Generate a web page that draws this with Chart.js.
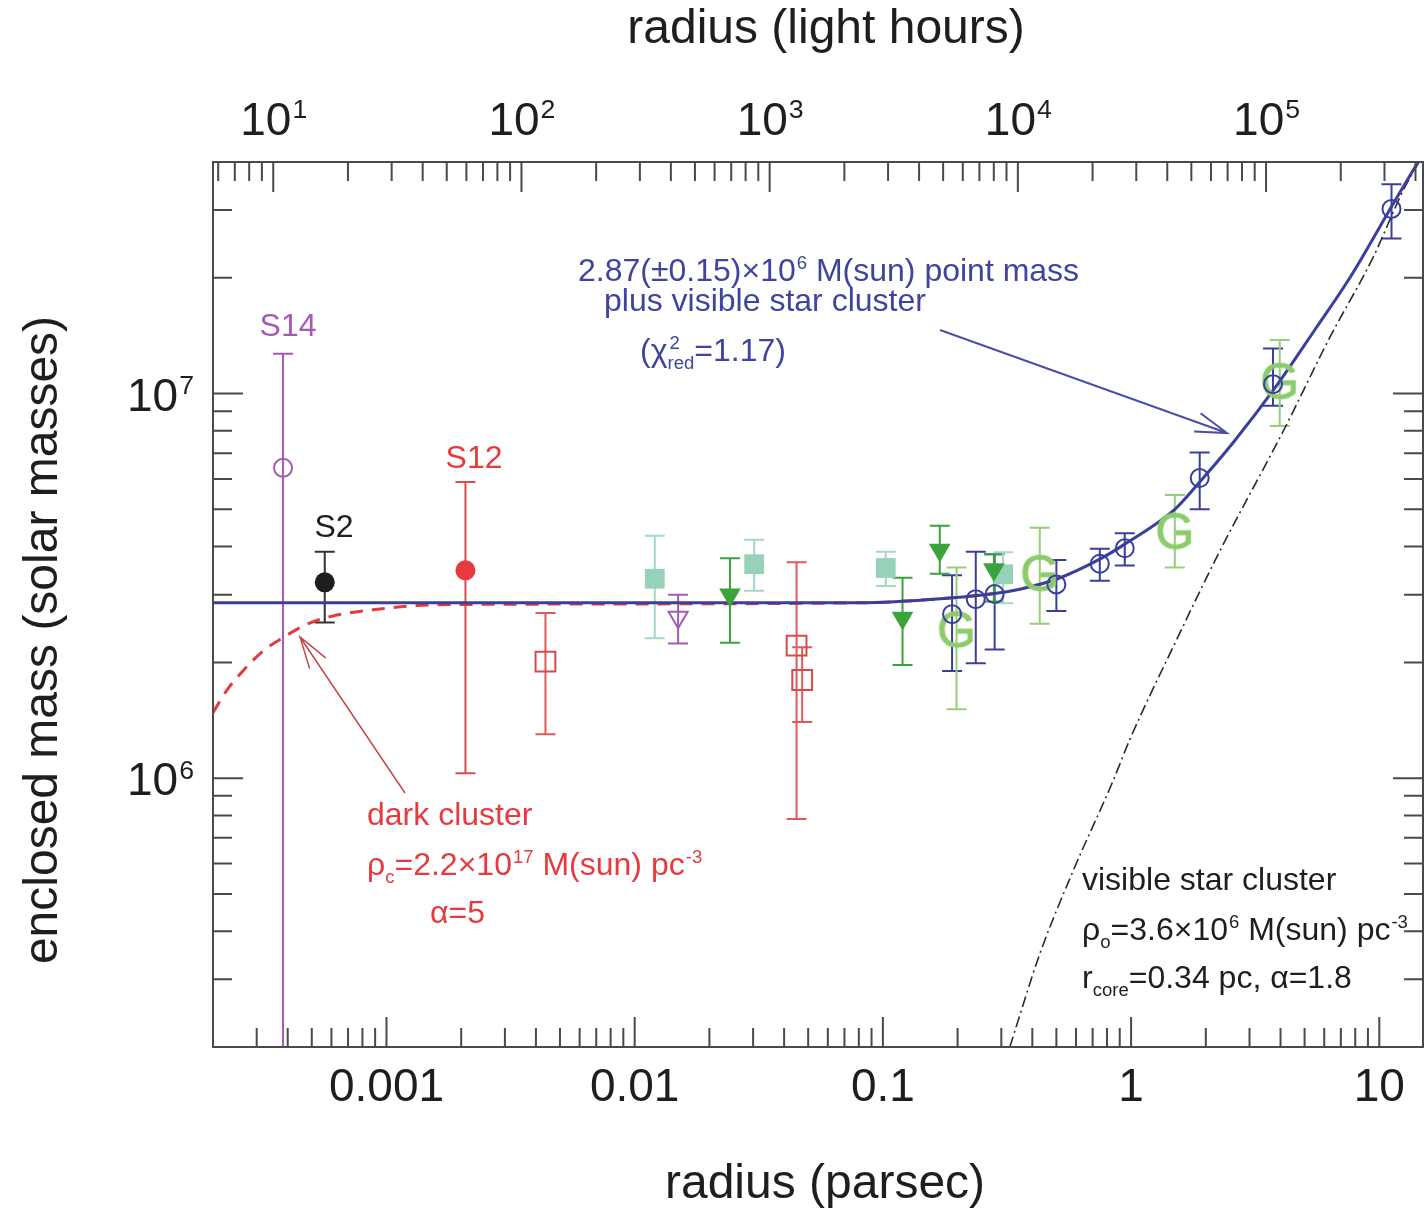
<!DOCTYPE html>
<html>
<head>
<meta charset="utf-8">
<title>Enclosed mass vs radius</title>
<script src="https://cdn.jsdelivr.net/npm/chart.js@4.4.1/dist/chart.umd.min.js"></script>
<style>
  html, body { margin: 0; padding: 0; background: #fff; }
  canvas { display: block; }
</style>
</head>
<body>
<canvas id="mass-chart" width="1425" height="1210"></canvas>
<script>
// radius in parsec, enclosed mass in solar masses
const LIGHT_HOURS_PER_PC = 28591;

// axis ticks
const xTickValues = [0.001, 0.01, 0.1, 1, 10];
const xTickLabels = ['0.001', '0.01', '0.1', '1', '10'];
const topTickValues = [1e1, 1e2, 1e3, 1e4, 1e5];   // light hours
const topTickExps = ['1', '2', '3', '4', '5'];
const yTickValues = [1e6, 1e7];
const yTickExps = ['6', '7'];

// S14
const s14R = [3.83e-4];
const s14M = [6.41e6];
const s14Lo = [1e5];
const s14Hi = [1.27e7];

// S2
const s2R = [5.64e-4];
const s2M = [3.23e6];
const s2Lo = [2.54e6];
const s2Hi = [3.88e6];

// S12
const s12R = [2.08e-3];
const s12M = [3.47e6];
const s12Lo = [1.03e6];
const s12Hi = [5.89e6];

// open red squares
const redSqR = [4.37e-3, 4.49e-2, 4.73e-2];
const redSqM = [2.01e6, 2.21e6, 1.80e6];
const redSqLo = [1.30e6, 7.83e5, 1.40e6];
const redSqHi = [2.69e6, 3.64e6, 2.19e6];

// filled teal squares
const tealR = [1.205e-2, 3.03e-2, 0.1027, 0.305];
const tealM = [3.30e6, 3.60e6, 3.52e6, 3.39e6];
const tealLo = [2.31e6, 3.07e6, 3.16e6, 2.85e6];
const tealHi = [4.27e6, 4.17e6, 3.88e6, 3.87e6];

// open purple triangle
const purpTriR = [1.496e-2];
const purpTriM = [2.62e6];
const purpTriLo = [2.24e6];
const purpTriHi = [3.0e6];

// filled green triangles
const greenTriR = [2.42e-2, 0.12, 0.1695, 0.28];
const greenTriM = [3.0e6, 2.61e6, 3.92e6, 3.49e6];
const greenTriLo = [2.25e6, 1.97e6, 3.40e6, 2.88e6];
const greenTriHi = [3.73e6, 3.32e6, 4.53e6, 3.82e6];

// "G" points
const gR = [0.198, 0.4286, 1.50, 3.97];
const gM = [2.44e6, 3.42e6, 4.40e6, 1.08e7];
const gLo = [1.51e6, 2.52e6, 3.53e6, 8.24e6];
const gHi = [3.53e6, 4.48e6, 5.45e6, 1.377e7];

// open blue circles
const blueR = [0.19, 0.2367, 0.282, 0.50, 0.748, 0.943, 1.89, 3.73, 11.2];
const blueM = [2.67e6, 2.92e6, 3.01e6, 3.19e6, 3.61e6, 3.96e6, 6.03e6, 1.058e7, 3.02e7];
const blueLo = [1.90e6, 1.99e6, 2.16e6, 2.72e6, 3.26e6, 3.57e6, 5.0e6, 9.29e6, 2.53e7];
const blueHi = [3.37e6, 3.88e6, 3.82e6, 3.69e6, 3.95e6, 4.33e6, 7.03e6, 1.31e7, 3.50e7];

// model curves
const pointMassR = [2e-4, 0.0807, 0.186, 0.282, 0.356, 0.50, 0.748, 0.943, 1.50, 1.89, 2.58, 3.85, 5.58, 7.61, 11.36, 14.56];
const pointMassM = [2.857e6, 2.857e6, 2.94e6, 3.02e6, 3.10e6, 3.29e6, 3.71e6, 4.06e6, 5.0e6, 5.89e6, 7.46e6, 1.047e7, 1.485e7, 2.0e7, 3.11e7, 4.07e7];

const darkR = [2.0e-4, 2.27e-4, 2.64e-4, 3.18e-4, 3.83e-4, 4.76e-4, 6.09e-4, 8.83e-4, 1.32e-3, 2.1e-3, 0.0807, 0.186, 0.282];
const darkM = [1.48e6, 1.69e6, 1.90e6, 2.14e6, 2.32e6, 2.51e6, 2.64e6, 2.74e6, 2.81e6, 2.83e6, 2.857e6, 2.94e6, 3.02e6];

const starsR = [0.3246, 0.4286, 0.584, 0.846, 0.988, 1.52, 2.28, 4.10, 6.32, 9.44, 12.47, 14.56];
const starsM = [2.0e5, 3.49e5, 5.74e5, 9.84e5, 1.26e6, 2.28e6, 3.90e6, 7.98e6, 1.40e7, 2.26e7, 3.37e7, 4.03e7];

const FONT = '"Liberation Sans", Arial, Helvetica, sans-serif';

function pts(r, m) {
    return r.map((v, i) => ({x: v, y: m[i]}));
}

function glyph(ch, color, size) {
    const c = document.createElement('canvas');
    c.width = size;
    c.height = size;
    const g = c.getContext('2d');
    g.font = size + 'px ' + FONT;
    g.fillStyle = color;
    g.strokeStyle = color;
    g.lineWidth = 1;
    g.textAlign = 'center';
    g.textBaseline = 'alphabetic';
    g.fillText(ch, size / 2, size / 2 + size * 0.36);
    g.strokeText(ch, size / 2, size / 2 + size * 0.36);
    return c;
}

function logTicks(min, max) {
    const out = [];
    for (let k = Math.floor(Math.log10(min)); k <= Math.ceil(Math.log10(max)); k++) {
        for (let m = 1; m <= 9; m++) {
            const v = m * Math.pow(10, k);
            if (v >= min * 0.999 && v <= max * 1.001) {
                out.push({v: v, major: m === 1});
            }
        }
    }
    return out;
}

// parts: [text] normal, [text, 'sup'], [text, 'sub'], [sup, 'pair', sub]
function richWidth(ctx, parts, size) {
    let w = 0;
    parts.forEach(p => {
        const kind = p[1] || '';
        if (kind === '') {
            ctx.font = size + 'px ' + FONT;
            w += ctx.measureText(p[0]).width;
        } else if (kind === 'pair') {
            ctx.font = (size * 0.58) + 'px ' + FONT;
            w += Math.max(ctx.measureText(p[0]).width, ctx.measureText(p[2]).width);
        } else {
            ctx.font = (size * 0.58) + 'px ' + FONT;
            w += ctx.measureText(p[0]).width;
        }
    });
    return w;
}

function drawRich(ctx, x, y, parts, size, color, align) {
    const total = richWidth(ctx, parts, size);
    let cx = x;
    if (align === 'center') {
        cx = x - total / 2;
    } else if (align === 'right') {
        cx = x - total;
    }
    ctx.fillStyle = color;
    ctx.textAlign = 'left';
    ctx.textBaseline = 'alphabetic';
    parts.forEach(p => {
        const kind = p[1] || '';
        if (kind === '') {
            ctx.font = size + 'px ' + FONT;
            ctx.fillText(p[0], cx, y);
            cx += ctx.measureText(p[0]).width;
        } else if (kind === 'sup') {
            ctx.font = (size * 0.58) + 'px ' + FONT;
            ctx.fillText(p[0], cx + 1, y - size * 0.36);
            cx += ctx.measureText(p[0]).width + 1;
        } else if (kind === 'sub') {
            ctx.font = (size * 0.58) + 'px ' + FONT;
            ctx.fillText(p[0], cx, y + size * 0.24);
            cx += ctx.measureText(p[0]).width;
        } else {
            ctx.font = (size * 0.58) + 'px ' + FONT;
            ctx.fillText(p[0], cx + 2, y - size * 0.36);
            ctx.fillText(p[2], cx, y + size * 0.24);
            cx += Math.max(ctx.measureText(p[0]).width, ctx.measureText(p[2]).width);
        }
    });
}

function arrow(ctx, x0, y0, x1, y1, color, width) {
    const ang = Math.atan2(y0 - y1, x0 - x1);
    const len = 33;
    const spread = 17 * Math.PI / 180;
    ctx.strokeStyle = color;
    ctx.lineWidth = width;
    ctx.beginPath();
    ctx.moveTo(x0, y0);
    ctx.lineTo(x1, y1);
    ctx.moveTo(x1 + len * Math.cos(ang - spread), y1 + len * Math.sin(ang - spread));
    ctx.lineTo(x1, y1);
    ctx.lineTo(x1 + len * Math.cos(ang + spread), y1 + len * Math.sin(ang + spread));
    ctx.stroke();
}

var errorBars = {
    id: 'errorBars',
    beforeDatasetsDraw: function (chart) {
        const ctx = chart.ctx;
        const a = chart.chartArea;
        const xs = chart.scales.x;
        const ys = chart.scales.y;
        ctx.save();
        ctx.beginPath();
        ctx.rect(a.left, a.top, a.right - a.left, a.bottom - a.top);
        ctx.clip();
        chart.data.datasets.forEach(ds => {
            if (!ds.errLo) {
                return;
            }
            ctx.strokeStyle = ds.errColor;
            ctx.lineWidth = 2;
            ds.data.forEach((p, i) => {
                const px = xs.getPixelForValue(p.x);
                const y0 = ys.getPixelForValue(ds.errLo[i]);
                const y1 = ys.getPixelForValue(ds.errHi[i]);
                ctx.beginPath();
                ctx.moveTo(px, y0);
                ctx.lineTo(px, y1);
                ctx.moveTo(px - 10, y0);
                ctx.lineTo(px + 10, y0);
                ctx.moveTo(px - 10, y1);
                ctx.lineTo(px + 10, y1);
                ctx.stroke();
            });
        });
        ctx.restore();
    }
};

var frameAndText = {
    id: 'frameAndText',
    afterDraw: function (chart) {
        const ctx = chart.ctx;
        const a = chart.chartArea;
        const xs = chart.scales.x;
        const x2 = chart.scales.x2;
        const ys = chart.scales.y;
        const axisColor = '#4a4a4a';
        const major = 30;
        const minor = 19;

        ctx.save();
        ctx.strokeStyle = axisColor;
        ctx.lineWidth = 2;
        ctx.strokeRect(a.left, a.top, a.right - a.left, a.bottom - a.top);

        ctx.beginPath();
        logTicks(xs.min, xs.max).forEach(t => {
            const px = xs.getPixelForValue(t.v);
            ctx.moveTo(px, a.bottom);
            ctx.lineTo(px, a.bottom - (t.major ? major : minor));
        });
        logTicks(x2.min, x2.max).forEach(t => {
            const px = x2.getPixelForValue(t.v);
            ctx.moveTo(px, a.top);
            ctx.lineTo(px, a.top + (t.major ? major : minor));
        });
        logTicks(ys.min, ys.max).forEach(t => {
            const py = ys.getPixelForValue(t.v);
            ctx.moveTo(a.left, py);
            ctx.lineTo(a.left + (t.major ? major : minor), py);
            ctx.moveTo(a.right, py);
            ctx.lineTo(a.right - (t.major ? major : minor), py);
        });
        ctx.stroke();

        // tick labels
        const tickColor = '#1e1e1e';
        xTickValues.forEach((v, i) => {
            drawRich(ctx, xs.getPixelForValue(v), a.bottom + 54, [[xTickLabels[i]]], 46, tickColor, 'center');
        });
        topTickValues.forEach((v, i) => {
            drawRich(ctx, x2.getPixelForValue(v), a.top - 27, [['10'], [topTickExps[i], 'sup']], 46, tickColor, 'center');
        });
        yTickValues.forEach((v, i) => {
            drawRich(ctx, a.left - 20, ys.getPixelForValue(v) + 17, [['10'], [yTickExps[i], 'sup']], 46, tickColor, 'right');
        });

        // axis titles
        drawRich(ctx, 825, 1198, [['radius (parsec)']], 48, tickColor, 'center');
        drawRich(ctx, 826, 43, [['radius (light hours)']], 48, tickColor, 'center');
        ctx.save();
        ctx.translate(57, 640);
        ctx.rotate(-Math.PI / 2);
        drawRich(ctx, 0, 0, [['enclosed mass (solar masses)']], 48, tickColor, 'center');
        ctx.restore();

        // star labels
        drawRich(ctx, 288, 336, [['S14']], 32, '#a55bb5', 'center');
        drawRich(ctx, 334, 537, [['S2']], 32, '#1e1e1e', 'center');
        drawRich(ctx, 474, 468, [['S12']], 32, '#e63a3f', 'center');

        // point mass annotation
        const blueText = '#3f449f';
        drawRich(ctx, 578, 281, [['2.87(\u00b10.15)\u00d710'], ['6', 'sup'], [' M(sun) point mass']], 32, blueText, 'left');
        drawRich(ctx, 604, 311, [['plus visible star cluster']], 32, blueText, 'left');
        drawRich(ctx, 640, 361, [['(\u03c7'], ['2', 'pair', 'red'], ['=1.17)']], 32, blueText, 'left');
        arrow(ctx, 940, 330, 1227, 433, '#4a4ea6', 2);

        // dark cluster annotation
        const redText = '#e63a3f';
        drawRich(ctx, 367, 825, [['dark cluster']], 32, redText, 'left');
        drawRich(ctx, 367, 875, [['\u03c1'], ['c', 'sub'], ['=2.2\u00d710'], ['17', 'sup'], [' M(sun) pc'], ['-3', 'sup']], 32, redText, 'left');
        drawRich(ctx, 430, 923, [['\u03b1=5']], 32, redText, 'left');
        arrow(ctx, 405, 793, 300, 637, '#c8474a', 1.5);

        // visible cluster annotation
        drawRich(ctx, 1082, 890, [['visible star cluster']], 32, '#1e1e1e', 'left');
        drawRich(ctx, 1082, 940, [['\u03c1'], ['o', 'sub'], ['=3.6\u00d710'], ['6', 'sup'], [' M(sun) pc'], ['-3', 'sup']], 32, '#1e1e1e', 'left');
        drawRich(ctx, 1082, 988, [['r'], ['core', 'sub'], ['=0.34 pc, \u03b1=1.8']], 32, '#1e1e1e', 'left');
        ctx.restore();
    }
};

const blue = '#3b3f9c';
const red = '#e63a3f';
const purple = '#a55bb5';

const config = {
    type: 'scatter',
    data: {
        datasets: [
            {
                label: 'blue',
                data: pts(blueR, blueM),
                errLo: blueLo, errHi: blueHi, errColor: blue,
                pointStyle: 'circle', pointRadius: 9, borderWidth: 2,
                borderColor: blue, backgroundColor: 'rgba(0,0,0,0)'
            },
            {
                label: 'G',
                data: pts(gR, gM),
                errLo: gLo, errHi: gHi, errColor: '#93d07a',
                pointStyle: glyph('G', '#8ccc6a', 50), pointRadius: 14
            },
            {
                label: 'green triangles',
                data: pts(greenTriR, greenTriM),
                errLo: greenTriLo, errHi: greenTriHi, errColor: '#3ba33b',
                pointStyle: 'triangle', rotation: 180, pointRadius: 12.5, borderWidth: 0,
                borderColor: '#3ba33b', backgroundColor: '#3ba33b'
            },
            {
                label: 'teal squares',
                data: pts(tealR, tealM),
                errLo: tealLo, errHi: tealHi, errColor: '#a3d8c2',
                pointStyle: 'rect', pointRadius: 14, borderWidth: 0,
                borderColor: '#96d2b8', backgroundColor: '#96d2b8'
            },
            {
                label: 'purple triangle',
                data: pts(purpTriR, purpTriM),
                errLo: purpTriLo, errHi: purpTriHi, errColor: purple,
                pointStyle: 'triangle', rotation: 180, pointRadius: 11, borderWidth: 2,
                borderColor: purple, backgroundColor: 'rgba(0,0,0,0)'
            },
            {
                label: 'red squares',
                data: pts(redSqR, redSqM),
                errLo: redSqLo, errHi: redSqHi, errColor: '#e05a5c',
                pointStyle: 'rect', pointRadius: 14, borderWidth: 2,
                borderColor: '#d9494c', backgroundColor: 'rgba(0,0,0,0)'
            },
            {
                label: 'S12',
                data: pts(s12R, s12M),
                errLo: s12Lo, errHi: s12Hi, errColor: '#db4b4e',
                pointStyle: 'circle', pointRadius: 10, borderWidth: 0,
                borderColor: red, backgroundColor: red
            },
            {
                label: 'S2',
                data: pts(s2R, s2M),
                errLo: s2Lo, errHi: s2Hi, errColor: '#333',
                pointStyle: 'circle', pointRadius: 10, borderWidth: 0,
                borderColor: '#1e1e1e', backgroundColor: '#1e1e1e'
            },
            {
                label: 'S14',
                data: pts(s14R, s14M),
                errLo: s14Lo, errHi: s14Hi, errColor: purple,
                pointStyle: 'circle', pointRadius: 9, borderWidth: 2,
                borderColor: purple, backgroundColor: 'rgba(0,0,0,0)'
            },
            {
                label: 'point mass plus visible cluster',
                data: pts(pointMassR, pointMassM),
                showLine: true, pointRadius: 0, borderWidth: 3,
                borderColor: blue, cubicInterpolationMode: 'monotone'
            },
            {
                label: 'dark cluster',
                data: pts(darkR, darkM),
                showLine: true, pointRadius: 0, borderWidth: 3,
                borderColor: red, borderDash: [13, 9], cubicInterpolationMode: 'monotone'
            },
            {
                label: 'visible star cluster',
                data: pts(starsR, starsM),
                showLine: true, pointRadius: 0, borderWidth: 1.6,
                borderColor: '#2a2a2a', borderDash: [11, 4, 2, 4], cubicInterpolationMode: 'monotone'
            }
        ]
    },
    options: {
        responsive: false,
        animation: false,
        devicePixelRatio: 1,
        events: [],
        layout: {
            autoPadding: false,
            padding: {left: 213, right: 2, top: 162, bottom: 163}
        },
        plugins: {
            legend: {display: false},
            tooltip: {enabled: false}
        },
        scales: {
            x: {
                type: 'logarithmic', position: 'bottom',
                min: 2e-4, max: 15, display: false
            },
            x2: {
                type: 'logarithmic', position: 'top',
                min: 2e-4 * LIGHT_HOURS_PER_PC, max: 15 * LIGHT_HOURS_PER_PC, display: false
            },
            y: {
                type: 'logarithmic', position: 'left',
                min: 2e5, max: 4e7, display: false
            }
        }
    },
    plugins: [errorBars, frameAndText]
};

new Chart(document.getElementById('mass-chart'), config);
</script>
</body>
</html>
